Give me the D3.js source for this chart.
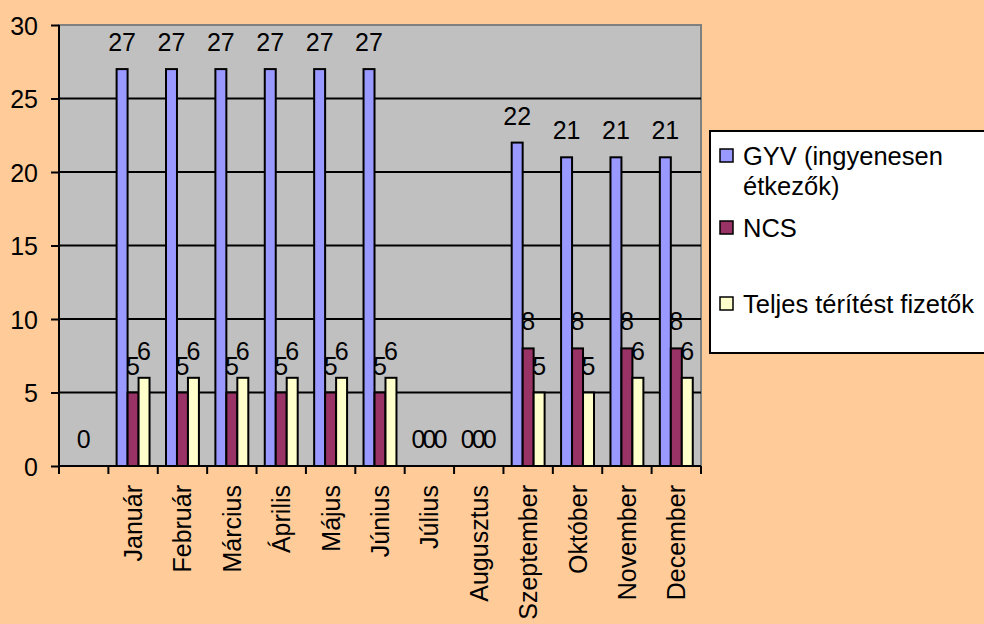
<!DOCTYPE html>
<html>
<head>
    <meta charset="utf-8">
    <script src="https://d3js.org/d3.v7.min.js"></script>
    <style>
        body { margin: 0; background: #FFCC99; }
        svg { display: block; font-family: 'Liberation Sans', Arial, sans-serif; }
    </style>
</head>
<body>
    <svg width="984" height="624"></svg>
    <script>
        // chart data
        var months = ["", "Január", "Február", "Március", "Április", "Május", "Június",
            "Július", "Augusztus", "Szeptember", "Október", "November", "December"];
        var gyv = [null, 27, 27, 27, 27, 27, 27, 0, 0, 22, 21, 21, 21];
        var ncs = [0, 5, 5, 5, 5, 5, 5, 0, 0, 8, 8, 8, 8];
        var teljes = [null, 6, 6, 6, 6, 6, 6, 0, 0, 5, 5, 6, 6];
        var legendLines = [["GYV (ingyenesen", "étkezők)"], ["NCS"], ["Teljes térítést fizetők"]];
        var yTicks = [0, 5, 10, 15, 20, 25, 30];

        var colors = ["#9999FF", "#993366", "#FFFFCC"];
        var allSeries = [gyv, ncs, teljes];

        var svg = d3.select("svg");
        var pL = 59, pR = 701, pT = 25, pB = 466;

        svg.append("rect").attr("width", 984).attr("height", 624).attr("fill", "#FFCC99");

        var x = d3.scaleBand().domain(d3.range(months.length)).range([pL, pR]);
        var y = d3.scaleLinear().domain([0, 30]).range([pB, pT]);
        // three bars per month, gap width like Excel's 50%
        var groupW = x.bandwidth() / 1.5;
        var xs = d3.scaleBand().domain([0, 1, 2]).range([0, groupW]);
        var offset = (x.bandwidth() - groupW) / 2;

        // plot area
        svg.append("rect")
            .attr("x", pL).attr("y", pT)
            .attr("width", pR - pL).attr("height", pB - pT)
            .attr("fill", "#C0C0C0")
            .attr("stroke", "#808080").attr("stroke-width", 2);

        // gridlines
        svg.append("g").selectAll("line")
            .data(yTicks.filter(t => t > 0 && t < 30))
            .enter().append("line")
            .attr("x1", pL).attr("x2", pR)
            .attr("y1", d => y(d)).attr("y2", d => y(d))
            .attr("stroke", "#000").attr("stroke-width", 2);

        // bars + value labels
        allSeries.forEach(function (vals, si) {
            var pts = vals.map((v, i) => ({ v: v, i: i })).filter(d => d.v !== null);
            svg.append("g").selectAll("rect")
                .data(pts.filter(d => d.v > 0))
                .enter().append("rect")
                .attr("x", d => x(d.i) + offset + xs(si))
                .attr("y", d => y(d.v))
                .attr("width", xs.bandwidth())
                .attr("height", d => y(0) - y(d.v))
                .attr("fill", colors[si])
                .attr("stroke", "#000").attr("stroke-width", 2);

            svg.append("g").selectAll("text")
                .data(pts)
                .enter().append("text")
                .attr("x", d => x(d.i) + offset + xs(si) + xs.bandwidth() / 2)
                .attr("y", d => y(d.v) - 18)
                .attr("text-anchor", "middle")
                .attr("font-size", 25)
                .attr("fill", "#000")
                .text(d => d.v);
        });

        // y axis
        var yAxis = d3.axisLeft(y).tickValues(yTicks).tickSize(8).tickPadding(13);
        var gy = svg.append("g").attr("transform", "translate(" + pL + ",0)").call(yAxis);
        gy.select(".domain").attr("stroke", "#000").attr("stroke-width", 2).attr("d", "M0," + pT + "V" + pB);
        gy.selectAll(".tick line").attr("stroke", "#000").attr("stroke-width", 2);
        gy.selectAll(".tick text").attr("font-size", 25).attr("fill", "#000")
            .attr("font-family", null).attr("dy", "0.36em");

        // x axis: ticks between categories, rotated labels
        var xEdges = d3.range(months.length + 1).map(i => pL + i * x.step());
        var gx = svg.append("g");
        gx.append("line").attr("x1", pL).attr("x2", pR).attr("y1", pB).attr("y2", pB)
            .attr("stroke", "#000").attr("stroke-width", 2);
        gx.selectAll(".tk").data(xEdges).enter().append("line")
            .attr("x1", d => d).attr("x2", d => d)
            .attr("y1", pB).attr("y2", pB + 8)
            .attr("stroke", "#000").attr("stroke-width", 2);
        gx.selectAll("text").data(months).enter().append("text")
            .attr("transform", (d, i) => "translate(" + (x(i) + x.bandwidth() / 2 + 9) + "," + (pB + 19) + ") rotate(-90)")
            .attr("text-anchor", "end")
            .attr("font-size", 25)
            .text(d => d);

        // legend
        var lg = svg.append("g").attr("transform", "translate(710,131)");
        lg.append("rect").attr("width", 300).attr("height", 222)
            .attr("fill", "#fff").attr("stroke", "#000").attr("stroke-width", 2);
        var rowY = [34, 106, 182];
        legendLines.forEach(function (lines, i) {
            lg.append("rect").attr("x", 10).attr("y", rowY[i] - 16).attr("width", 13).attr("height", 13)
                .attr("fill", colors[i]).attr("stroke", "#000").attr("stroke-width", 1.5);
            lines.forEach(function (ln, j) {
                lg.append("text").attr("x", 33).attr("y", rowY[i] + j * 30)
                    .attr("font-size", 25.5).text(ln);
            });
        });
    </script>
</body>
</html>
